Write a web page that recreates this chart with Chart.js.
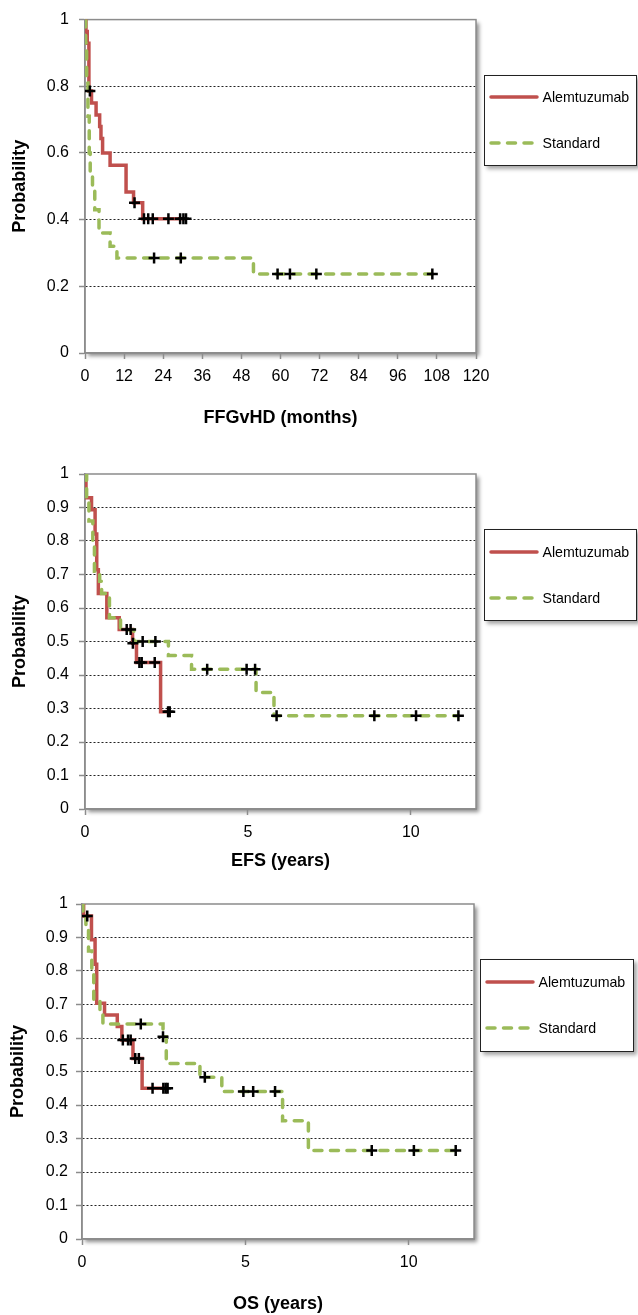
<!DOCTYPE html>
<html>
<head>
<meta charset="utf-8">
<script src="https://cdn.jsdelivr.net/npm/chart.js@4.4.0/dist/chart.umd.min.js"></script>
<style>
  html, body { margin: 0; padding: 0; background: #fff; }
  body { width: 638px; height: 1315px; position: relative; overflow: hidden; font-family: 'Liberation Sans', Arial, sans-serif; }
  .panel { position: absolute; left: 0; }
  .legend { position: absolute; background: #fff; border: 1px solid #222; box-shadow: 3px 3px 4px rgba(0,0,0,0.35); box-sizing: border-box; }
</style>
</head>
<body>
<canvas id="ffgChart" class="panel" width="638" height="440" style="top:0px"></canvas>
<canvas id="efsChart" class="panel" width="638" height="430" style="top:450px"></canvas>
<canvas id="osChart" class="panel" width="638" height="435" style="top:880px"></canvas>

<script>
// series names / colours
const seriesNames = ['Alemtuzumab', 'Standard'];
const alemColor = '#C0504D';
const stdColor = '#9BBB59';

// 1. FFGvHD (months) - Kaplan-Meier steps (time, probability after step)
const ffgAlemT = [0, 0.3, 0.7, 1.2, 2.0, 3.4, 4.5, 4.9, 5.4, 7.7, 12.6, 14.9, 17.7, 31.0];
const ffgAlemS = [1, 0.964, 0.929, 0.786, 0.75, 0.714, 0.679, 0.643, 0.60, 0.563, 0.483, 0.451, 0.403, 0.403];
const ffgAlemCens = [1.5, 15.2, 18.1, 19.4, 20.8, 25.6, 29.2, 30.2, 31.0];
const ffgStdT = [0, 0.2, 0.5, 0.9, 1.3, 1.6, 2.3, 3.0, 4.3, 7.7, 9.8, 51.7, 106.6];
const ffgStdS = [1, 0.93, 0.81, 0.71, 0.60, 0.54, 0.50, 0.43, 0.36, 0.32, 0.285, 0.237, 0.237];
const ffgStdCens = [21.2, 29.4, 59.1, 62.9, 71.0, 106.6];

// 2. EFS (years)
const efsAlemT = [0, 0.03, 0.2, 0.31, 0.36, 0.41, 0.67, 1.05, 1.46, 1.58, 2.32, 2.6];
const efsAlemS = [1, 0.929, 0.893, 0.821, 0.714, 0.643, 0.571, 0.536, 0.495, 0.437, 0.29, 0.29];
const efsAlemCens = [1.28, 1.40, 1.47, 1.67, 1.74, 2.14, 2.55, 2.6];
const efsStdT = [0, 0.05, 0.12, 0.24, 0.29, 0.45, 0.51, 0.75, 1.09, 1.50, 2.56, 3.27, 5.25, 5.80, 11.46];
const efsStdS = [1, 0.93, 0.86, 0.79, 0.71, 0.68, 0.643, 0.571, 0.535, 0.50, 0.458, 0.417, 0.348, 0.278, 0.278];
const efsStdCens = [1.77, 2.16, 3.75, 4.96, 5.22, 5.88, 8.88, 10.16, 11.46];

// 3. OS (years)
const osAlemT = [0, 0.05, 0.29, 0.40, 0.45, 0.69, 1.08, 1.22, 1.56, 1.84, 2.64];
const osAlemS = [1, 0.964, 0.893, 0.82, 0.704, 0.669, 0.634, 0.594, 0.539, 0.45, 0.45];
const osAlemCens = [0.16, 1.25, 1.41, 1.49, 1.63, 1.74, 2.16, 2.49, 2.56, 2.62];
const osStdT = [0, 0.03, 0.12, 0.2, 0.3, 0.36, 0.55, 0.64, 2.48, 2.58, 3.61, 4.28, 6.14, 6.93, 11.44];
const osStdS = [1, 0.964, 0.93, 0.86, 0.79, 0.714, 0.68, 0.642, 0.604, 0.524, 0.483, 0.44, 0.353, 0.264, 0.264];
const osStdCens = [1.80, 2.48, 3.76, 4.94, 5.24, 5.91, 8.87, 10.16, 11.44];

const FONT = "'Liberation Sans', Arial, Helvetica, sans-serif";

// probability of a step curve at time t
function stepAt(ts, ss, t) {
    let v = ss[0];
    for (let i = 0; i < ts.length; i++) if (t >= ts[i] - 1e-9) v = ss[i];
    return v;
}

// white plot area with drop shadow + grey frame
const framePlugin = {
    id: 'frame',
    beforeDraw(chart) {
        const { ctx, chartArea: a } = chart;
        ctx.save();
        ctx.shadowColor = 'rgba(0,0,0,0.45)';
        ctx.shadowBlur = 4;
        ctx.shadowOffsetX = 3;
        ctx.shadowOffsetY = 3;
        ctx.fillStyle = '#fff';
        ctx.fillRect(a.left, a.top, a.right - a.left, a.bottom - a.top);
        ctx.restore();
    },
    beforeDatasetsDraw(chart) {
        const { ctx, chartArea: a } = chart;
        ctx.save();
        ctx.strokeStyle = '#8c8c8c';
        ctx.lineWidth = 1.5;
        ctx.strokeRect(a.left, a.top, a.right - a.left, a.bottom - a.top);
        ctx.restore();
    }
};

function kmChart(id, p) {
    const H = document.getElementById(id).height;
    const line = (ts, ss) => ts.map((t, i) => ({ x: t, y: ss[i] }));
    const cens = (cs, ts, ss) => cs.map(t => ({ x: t, y: stepAt(ts, ss, t) }));

    new Chart(document.getElementById(id).getContext('2d'), {
        type: 'line',
        data: {
            datasets: [{
                label: 'censored',
                type: 'scatter',
                data: cens(p.alemCens, p.alemT, p.alemS).concat(cens(p.stdCens, p.stdT, p.stdS)),
                pointStyle: 'cross',
                pointRadius: 5.5,
                pointBorderWidth: 2.5,
                pointBorderColor: '#000',
                order: 0
            }, {
                label: seriesNames[1],
                data: line(p.stdT, p.stdS),
                borderColor: stdColor,
                borderWidth: 3.5,
                borderDash: [8, 8.5],
                borderCapStyle: 'round',
                stepped: true,
                pointRadius: 0,
                fill: false,
                order: 1
            }, {
                label: seriesNames[0],
                data: line(p.alemT, p.alemS),
                borderColor: alemColor,
                borderWidth: 3.5,
                stepped: true,
                pointRadius: 0,
                fill: false,
                order: 2
            }]
        },
        options: {
            responsive: false,
            animation: false,
            events: [],
            layout: { padding: { top: p.area.top, right: 638 - p.area.right, left: 0, bottom: 0 } },
            plugins: { legend: { display: false }, tooltip: { enabled: false } },
            scales: {
                x: {
                    type: 'linear',
                    min: 0,
                    max: p.xMax,
                    afterBuildTicks: s => { s.ticks = s.ticks.filter(t => Math.abs(t.value % p.xStep) < 1e-6); },
                    afterFit: s => { s.height = H - p.area.bottom; },
                    ticks: { stepSize: p.xStep, autoSkip: false, maxRotation: 0, padding: 8, color: '#000', font: { family: FONT, size: 16 } },
                    grid: { drawOnChartArea: false, tickLength: 6, tickColor: '#8c8c8c', tickWidth: 1.5 },
                    border: { color: '#8c8c8c', width: 1.5 },
                    title: { display: true, text: p.xTitle, color: '#000', padding: { top: 0, bottom: p.xTitlePad }, font: { family: FONT, size: 18, weight: 'bold' } }
                },
                y: {
                    min: 0,
                    max: 1,
                    afterFit: s => { s.width = p.area.left; },
                    ticks: {
                        stepSize: p.yStep,
                        padding: p.yTickPad,
                        color: '#000',
                        font: { family: FONT, size: 16 },
                        callback: v => String(Number(v.toFixed(1)))
                    },
                    grid: {
                        color: c => (c.tick && (c.tick.value <= 0 || c.tick.value >= 1)) ? 'rgba(0,0,0,0)' : '#222',
                        lineWidth: 1,
                        tickLength: 6,
                        tickColor: '#8c8c8c',
                        tickWidth: 1.5,
                        tickBorderDash: []
                    },
                    border: { color: '#8c8c8c', width: 1.5, dash: [2, 2] },
                    title: { display: true, text: 'Probability', color: '#000', padding: { top: p.yTitlePad, bottom: 0 }, font: { family: FONT, size: 18, weight: 'bold' } }
                }
            }
        },
        plugins: [framePlugin]
    });

    // legend box
    const lg = p.legend;
    const box = document.createElement('div');
    box.className = 'legend';
    box.style.left = lg.left + 'px';
    box.style.top = lg.top + 'px';
    box.style.width = lg.width + 'px';
    box.style.height = lg.height + 'px';
    const y1 = lg.row1, y2 = lg.row2;
    box.innerHTML =
        '<svg width="' + lg.width + '" height="' + lg.height + '" style="position:absolute;left:-1px;top:-1px">' +
        '<line x1="7" y1="' + y1 + '" x2="53" y2="' + y1 + '" stroke="' + alemColor + '" stroke-width="3.5" stroke-linecap="round"/>' +
        '<line x1="7" y1="' + y2 + '" x2="53" y2="' + y2 + '" stroke="' + stdColor + '" stroke-width="3.5" stroke-linecap="round" stroke-dasharray="8 8.5"/>' +
        '<text x="58.5" y="' + y1 + '" dominant-baseline="central" font-family="' + FONT.replace(/'/g, '') + '" font-size="14.2" fill="#000">' + seriesNames[0] + '</text>' +
        '<text x="58.5" y="' + y2 + '" dominant-baseline="central" font-family="' + FONT.replace(/'/g, '') + '" font-size="14.2" fill="#000">' + seriesNames[1] + '</text>' +
        '</svg>';
    document.body.appendChild(box);
}

kmChart('ffgChart', {
    alemT: ffgAlemT, alemS: ffgAlemS, alemCens: ffgAlemCens,
    stdT: ffgStdT, stdS: ffgStdS, stdCens: ffgStdCens,
    xMax: 120, xStep: 12, yStep: 0.2,
    xTitle: 'FFGvHD (months)',
    area: { left: 85, top: 19, right: 476, bottom: 353 },
    xTitlePad: 11, yTitlePad: 9, yTickPad: 10,
    legend: { left: 484, top: 75, width: 153, height: 91, row1: 22, row2: 68 }
});

kmChart('efsChart', {
    alemT: efsAlemT, alemS: efsAlemS, alemCens: efsAlemCens,
    stdT: efsStdT, stdS: efsStdS, stdCens: efsStdCens,
    xMax: 12, xStep: 5, yStep: 0.1,
    xTitle: 'EFS (years)',
    area: { left: 85, top: 24, right: 476, bottom: 359 },
    xTitlePad: 8, yTitlePad: 9, yTickPad: 10,
    legend: { left: 484, top: 529, width: 153, height: 92, row1: 23, row2: 69 }
});

kmChart('osChart', {
    alemT: osAlemT, alemS: osAlemS, alemCens: osAlemCens,
    stdT: osStdT, stdS: osStdS, stdCens: osStdCens,
    xMax: 12, xStep: 5, yStep: 0.1,
    xTitle: 'OS (years)',
    area: { left: 82, top: 24, right: 474, bottom: 359 },
    xTitlePad: 0, yTitlePad: 7, yTickPad: 8,
    legend: { left: 480, top: 959, width: 154, height: 93, row1: 23, row2: 69 }
});
</script>
</body>
</html>
